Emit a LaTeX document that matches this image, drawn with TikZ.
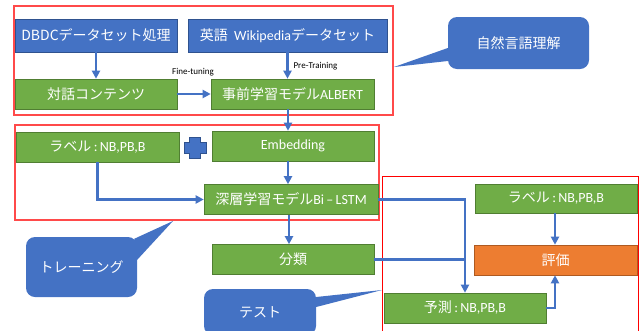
\documentclass[tikz,border=0pt]{standalone}
\usepackage{fontspec}
\setmainfont{Carlito}
\newfontfamily\jp{Noto Sans CJK JP}
\usetikzlibrary{arrows.meta}

\definecolor{bfill}{HTML}{4472C4}
\definecolor{bline}{HTML}{2F528F}
\definecolor{gfill}{HTML}{70AD47}
\definecolor{gline}{HTML}{507E32}
\definecolor{ofill}{HTML}{ED7D31}
\definecolor{oline}{HTML}{AE5A21}
\definecolor{frame}{HTML}{FF4A4A}

\tikzset{
  box/.style={rectangle, inner sep=0pt, line width=0.6pt, text=white,
    font=\fontsize{14}{16}\selectfont},
  bluebox/.style={box, fill=bfill, draw=bline},
  greenbox/.style={box, fill=gfill, draw=gline},
  orangebox/.style={box, fill=ofill, draw=oline},
  bubble/.style={rectangle, rounded corners=9pt, fill=bfill, inner sep=0pt,
    text=white, font=\fontsize{14}{16}\selectfont\jp},
  tail/.style={fill=bfill},
  flow/.style={draw=bfill, line width=2.4pt,
    -{Triangle[length=8pt,width=8pt]}},
  link/.style={draw=bfill, line width=2.4pt},
  group/.style={draw=frame, line width=1.1pt},
  tag/.style={font=\fontsize{9}{10}\selectfont, text=black, inner sep=0pt},
}

\begin{document}
\begin{tikzpicture}[x=1pt, y=-1pt]
\useasboundingbox (0,0) rectangle (640,330);

% group frames
\draw[group] (14,6) rectangle (393,115);
\draw[group] (15,125) rectangle (379,220);
\draw[draw=red, line width=0.8pt] (382,176) rectangle (638,345);

% language understanding stage
\node[bluebox, minimum width=162pt, minimum height=33pt] (dbdc) at (96,35.5)
  {\jp DBDCデータセット処理};
\node[bluebox, minimum width=199pt, minimum height=33pt] (wiki) at (287.5,35.5)
  {{\jp 英語}\ \ Wikipedia{\jp データセット}};
\node[greenbox, minimum width=162pt, minimum height=30pt] (dialog) at (96,94)
  {\jp 対話コンテンツ};
\node[greenbox, minimum width=163pt, minimum height=30pt] (albert) at (292.5,94)
  {{\jp 事前学習モデル}ALBERT};
\node[tag] (ft) at (193,72) {Fine-tuning};
\node[tag] (pt) at (315.5,66) {Pre-Training};

% training stage
\node[greenbox, minimum width=163pt, minimum height=30pt] (lab1) at (97.5,147)
  {{\jp ラベル}\,:\,NB,PB,B};
\node[greenbox, minimum width=162pt, minimum height=30pt] (emb) at (293,146)
  {Embedding};
\node[greenbox, minimum width=174pt, minimum height=30pt] (lstm) at (291,199.5)
  {{\jp 深層学習モデル}Bi\,–\,LSTM};
\node[greenbox, minimum width=162pt, minimum height=30pt] (cls) at (293,259.5)
  {\jp 分類};

% test stage
\node[greenbox, minimum width=162pt, minimum height=29pt] (lab2) at (556,198.5)
  {{\jp ラベル}\,:\,NB,PB,B};
\node[orangebox, minimum width=163pt, minimum height=30pt] (eval) at (555.5,260)
  {\jp 評価};
\node[greenbox, minimum width=162pt, minimum height=30pt] (pred) at (465,308)
  {{\jp 予測}\,:\,NB,PB,B};

% plus sign between the label and embedding boxes
\filldraw[fill=bfill, draw=bline, line width=0.5pt]
  (189.5,137) -- (200.5,137) -- (200.5,142) -- (206,142) -- (206,153)
  -- (200.5,153) -- (200.5,158) -- (189.5,158) -- (189.5,153) -- (184,153)
  -- (184,142) -- (189.5,142) -- cycle;

% callouts
\node[bubble, minimum width=141pt, minimum height=52pt] (nlu) at (518.5,43)
  {自然言語理解};
\coordinate (nlutip) at (394,67);
\fill[tail] ([yshift=-5pt]nlu.west) -- (nlutip) -- ([yshift=-18pt]nlu.west) -- cycle;

\node[bubble, minimum width=111pt, minimum height=60pt] (train) at (81.5,267)
  {トレーニング};
\coordinate (traintip) at (173,221);
\fill[tail] ([xshift=-3pt,yshift=-2pt]train.north east) -- (traintip)
  -- ([yshift=-23pt]train.north east) -- cycle;

\node[bubble, minimum width=112pt, minimum height=46pt] (test) at (260,312)
  {テスト};
\coordinate (testtip) at (382,290);
\fill[tail] ([yshift=15pt]test.east) -- (testtip) -- ([yshift=5pt]test.east) -- cycle;

% connectors
\coordinate (spine) at (288,0);
\coordinate (junc) at (465,199.5);
\coordinate (evx) at (555,0);

\draw[flow] (dbdc) -- (dialog);
\draw[flow] (wiki.south) -- (wiki.south |- albert.north);
\draw[flow] (dialog) -- (albert);
\draw[flow] (albert.south -| spine) -- (spine |- emb.north);
\draw[flow] (emb.south -| spine) -- (spine |- lstm.north);
\draw[flow] (lab1.south) -- (lab1.south |- lstm.west) -- (lstm.west);
\draw[flow] ([xshift=1pt]lstm.south -| spine) -- ([xshift=1pt]spine |- cls.north);
\draw[flow] (lstm.east) -- (junc) -- (pred.north);
\draw[link] (cls.east) -- (cls.east -| junc);
\draw[flow] (lab2.south -| evx) -- (evx |- eval.north);
\draw[flow] (pred.east) -- (pred.east -| evx) -- (evx |- eval.south);
\end{tikzpicture}
\end{document}
